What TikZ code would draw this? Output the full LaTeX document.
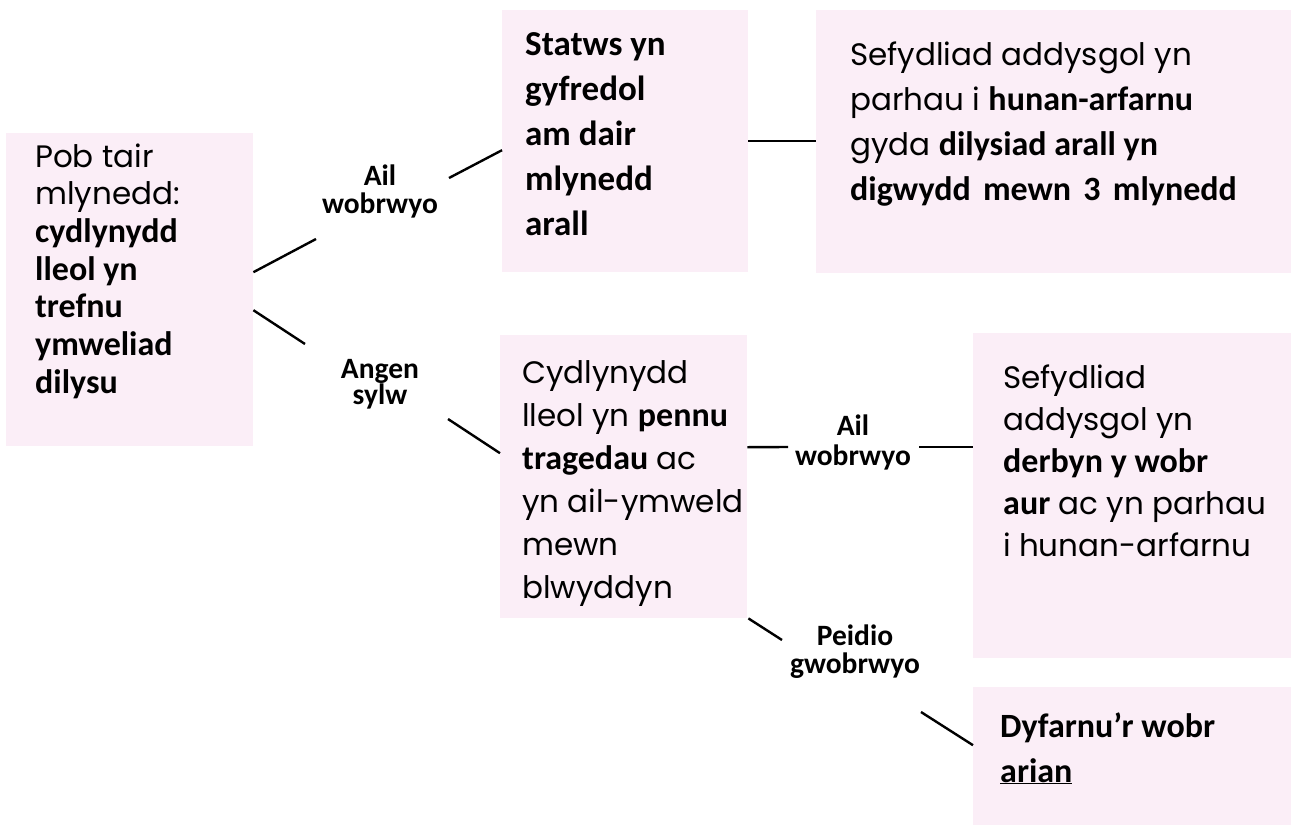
\documentclass[tikz,border=0pt]{standalone}
\usepackage{fontspec}
\setmainfont{Poppins}
\newfontfamily\carl{Carlito}
\definecolor{boxpink}{RGB}{251,238,247}
\newcommand\Bd[1]{{\carl\bfseries\fontsize{34}{34}\selectfont #1}}
\newcommand\Bdl[1]{{\carl\bfseries\fontsize{35}{35}\selectfont #1}}
\newcommand\boxtext[3]{\parbox[t]{#1}{\raggedright\fontsize{31}{#2}\selectfont #3}}
\newcommand\labtext[2]{\parbox[t]{160pt}{\centering\carl\bfseries\fontsize{29.5}{#1}\selectfont #2}}
\begin{document}
\begin{tikzpicture}[x=1pt,y=-1pt,
  pinkbox/.style={fill=boxpink, draw=none, inner sep=0pt, anchor=north west},
  txt/.style={anchor=base west, inner sep=0pt},
  lab/.style={anchor=base, inner sep=0pt},
  conn/.style={line width=2.4pt, black}]
\useasboundingbox (0,0) rectangle (1291,825);
% boxes
\node[pinkbox, minimum width=247pt, minimum height=313pt] (A) at (6,133) {};
\node[pinkbox, minimum width=246pt, minimum height=262pt] (B) at (502,10) {};
\node[pinkbox, minimum width=475pt, minimum height=263pt] (C) at (816,10) {};
\node[pinkbox, minimum width=247pt, minimum height=283pt] (D) at (500,335) {};
\node[pinkbox, minimum width=318pt, minimum height=325pt] (E) at (973,333) {};
\node[pinkbox, minimum width=318pt, minimum height=138pt] (F) at (973,687) {};
% box texts
\node[txt] (tA) at (35,167) {\boxtext{215pt}{37.7}{Pob tair\\mlynedd:\\\Bd{cydlynydd}\\\Bd{lleol yn}\\\Bd{trefnu}\\\Bd{ymweliad}\\\Bd{dilysu}}};
\node[txt] (tB) at (525,55) {\boxtext{220pt}{45}{\Bdl{Statws yn}\\\Bdl{gyfredol}\\\Bdl{am dair}\\\Bdl{mlynedd}\\\Bdl{arall}}};
\node[txt] (tC) at (850,65) {\boxtext{440pt}{45.3}{Sefydliad addysgol yn\\parhau i \Bd{hunan-arfarnu}\\gyda \Bd{dilysiad arall yn}\\\Bd{digwydd\hspace{0.36em}mewn\hspace{0.36em}3\hspace{0.36em}mlynedd}}};
\node[txt] (tD) at (522,383) {\boxtext{225pt}{43}{Cydlynydd\\lleol yn \Bd{pennu}\\\Bd{tragedau} ac\\yn ail-ymweld\\mewn\\blwyddyn}};
\node[txt] (tE) at (1003,388) {\boxtext{285pt}{42.2}{Sefydliad\\addysgol yn\\\Bd{derbyn y wobr}\\\Bd{aur} ac yn parhau\\i hunan-arfarnu}};
\node[txt] (tF) at (1000,737) {\boxtext{285pt}{45}{\Bd{Dyfarnu’r wobr}\\\Bd{\underline{arian}}}};
% labels
\node[lab] (L1) at (380,185) {\labtext{28}{Ail\\wobrwyo}};
\node[lab] (L2) at (380,378) {\labtext{25}{Angen\\sylw}};
\node[lab] (L3) at (853,435) {\labtext{30}{Ail\\wobrwyo}};
\node[lab] (L4) at (855,645) {\labtext{28}{Peidio\\gwobrwyo}};
% connector free ends near labels
\coordinate (c1) at (316,239);
\coordinate (c2) at (449,178);
\coordinate (c3) at (305,344);
\coordinate (c4) at (448,419);
\coordinate (c6) at (788,447);
\coordinate (c7) at (919,447);
\coordinate (c8) at (782,640);
\coordinate (c9) at (921,712);
% connectors
\draw[conn] ([yshift=17.5pt]A.east) -- (c1);
\draw[conn] (c2) -- ([yshift=-9pt]B.west);
\draw[conn] ([yshift=-20.5pt]A.east) -- (c3);
\draw[conn] (c4) -- ([yshift=23.5pt]D.west);
\draw[conn] (B.east) -- (B.east -| C.west);
\draw[conn] ([yshift=29.5pt]D.east) -- (c6);
\draw[conn] (c7) -- (c7 -| E.west);
\draw[conn] ([xshift=1pt]D.south east) -- (c8);
\draw[conn] (c9) -- ([yshift=11pt]F.west);
\end{tikzpicture}
\end{document}
